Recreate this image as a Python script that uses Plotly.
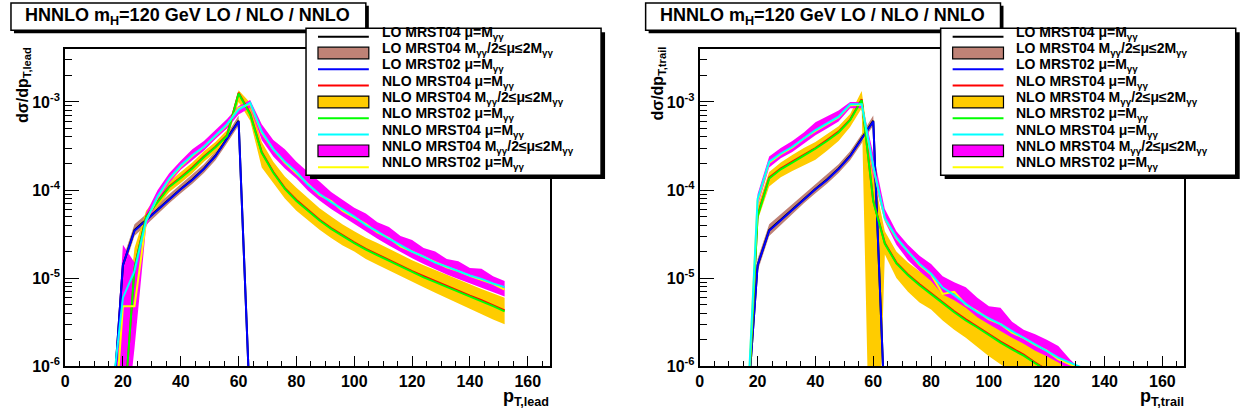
import plotly.graph_objects as go

W, H = 1246, 416

# ---------------- data ----------------
pt = [16, 20, 24, 28, 32, 36, 40, 44, 48, 52, 56, 60, 64, 68, 72, 76, 80, 84, 88, 92,
      96, 100, 104, 108, 112, 116, 120, 124, 128, 132, 136, 140, 144, 148, 152]
pt_lo = [16, 20, 24, 28, 32, 36, 40, 44, 48, 52, 56, 60, 64]

# LO (identical for leading / trailing photon)
lo04 = [2e-7, 1.4e-5, 3.5e-5, 4.6e-5, 6.1e-5, 8.0e-5, 1.03e-4, 1.32e-4, 1.75e-4, 2.45e-4, 3.8e-4, 6.1e-4, 3e-7]
lo04_dn = [1.6e-7, 1.2e-5, 3.0e-5, 4.0e-5, 5.4e-5, 7.1e-5, 9.2e-5, 1.18e-4, 1.56e-4, 2.18e-4, 3.4e-4, 5.4e-4, 2.5e-7]
lo04_up = [2.4e-7, 1.65e-5, 4.1e-5, 5.3e-5, 6.9e-5, 9.0e-5, 1.16e-4, 1.48e-4, 1.96e-4, 2.75e-4, 4.3e-4, 7.0e-4, 3.6e-7]
lo02 = [2e-7, 1.4e-5, 3.45e-5, 4.55e-5, 6.0e-5, 7.9e-5, 1.02e-4, 1.3e-4, 1.73e-4, 2.42e-4, 3.75e-4, 6.0e-4, 3e-7]

# leading photon
nlo04_lead = [1e-8, 2e-7, 1.3e-5, 5.0e-5, 7.5e-5, 1.1e-4, 1.4e-4, 1.8e-4, 2.4e-4, 3.1e-4, 4.2e-4, 1.27e-3,
              7.4e-4, 2.7e-4, 1.6e-4, 1.05e-4, 7.7e-5, 5.9e-5, 4.6e-5, 3.7e-5, 3.05e-5, 2.55e-5, 2.15e-5,
              1.85e-5, 1.6e-5, 1.38e-5, 1.2e-5, 1.05e-5, 9.2e-6, 8.1e-6, 7.2e-6, 6.3e-6, 5.6e-6, 4.9e-6, 4.3e-6]
nlo02_lead = [1e-8, 2e-7, 1.3e-5, 4.9e-5, 7.3e-5, 1.08e-4, 1.37e-4, 1.76e-4, 2.35e-4, 3.05e-4, 4.1e-4, 1.25e-3,
              7.2e-4, 2.65e-4, 1.57e-4, 1.03e-4, 7.5e-5, 5.8e-5, 4.5e-5, 3.62e-5, 2.98e-5, 2.5e-5, 2.1e-5,
              1.81e-5, 1.56e-5, 1.35e-5, 1.17e-5, 1.02e-5, 9.0e-6, 7.9e-6, 7.0e-6, 6.15e-6, 5.45e-6, 4.8e-6, 4.2e-6]
nlo04_lead_dn = [1e-8, 1e-7, 6e-6, 4.3e-5, 6.5e-5, 9.5e-5, 1.2e-4, 1.55e-4, 2.1e-4, 2.7e-4, 3.7e-4, 1.0e-3,
                 6.1e-4, 1.8e-4, 1.2e-4, 8.0e-5, 5.8e-5, 4.5e-5, 3.55e-5, 2.85e-5, 2.35e-5, 2.0e-5, 1.65e-5,
                 1.42e-5, 1.22e-5, 1.05e-5, 9.1e-6, 7.9e-6, 6.8e-6, 5.9e-6, 5.2e-6, 4.5e-6, 3.9e-6, 3.4e-6, 3.0e-6]
nlo04_lead_up = [1e-7, 1.5e-6, 2.2e-5, 5.8e-5, 8.5e-5, 1.25e-4, 1.6e-4, 2.05e-4, 2.75e-4, 3.5e-4, 4.8e-4, 1.36e-3,
                 9.8e-4, 3.5e-4, 2.1e-4, 1.42e-4, 1.06e-4, 8.0e-5, 6.2e-5, 5.0e-5, 4.05e-5, 3.4e-5, 2.88e-5,
                 2.5e-5, 2.15e-5, 1.85e-5, 1.6e-5, 1.4e-5, 1.23e-5, 1.08e-5, 9.6e-6, 8.5e-6, 7.5e-6, 6.7e-6, 6.0e-6]
nnlo04_lead = [4e-7, 6e-6, 1.2e-5, 4.5e-5, 8.5e-5, 1.35e-4, 1.9e-4, 2.5e-4, 3.1e-4, 4.2e-4, 5.6e-4, 8.2e-4,
               9.8e-4, 4.6e-4, 2.9e-4, 2.1e-4, 1.6e-4, 1.15e-4, 9.0e-5, 7.3e-5, 6.0e-5, 5.0e-5, 4.0e-5,
               3.4e-5, 2.8e-5, 2.35e-5, 2.0e-5, 1.75e-5, 1.5e-5, 1.35e-5, 1.2e-5, 1.07e-5, 9.8e-6, 8.7e-6, 7.9e-6]
nnlo02_lead = [7e-8, 4.8e-6, 4.8e-6, 4.4e-5, 8.3e-5, 1.32e-4, 1.85e-4, 2.45e-4, 3.1e-4, 4.1e-4, 5.5e-4, 8.5e-4,
               9.5e-4, 4.5e-4, 2.9e-4, 2.05e-4, 1.55e-4, 1.18e-4, 8.8e-5, 7.5e-5, 5.8e-5, 4.9e-5, 4.1e-5,
               3.3e-5, 2.85e-5, 2.3e-5, 2.0e-5, 1.72e-5, 1.52e-5, 1.33e-5, 1.2e-5, 1.06e-5, 9.6e-6, 8.6e-6, 7.4e-6]
nnlo04_lead_dn = [1e-8, 1e-7, 1.6e-6, 3.8e-5, 7.3e-5, 1.2e-4, 1.7e-4, 2.2e-4, 2.8e-4, 3.8e-4, 5.0e-4, 7.2e-4,
                  8.6e-4, 3.7e-4, 2.4e-4, 1.75e-4, 1.35e-4, 9.8e-5, 7.6e-5, 6.1e-5, 5.0e-5, 4.15e-5, 3.35e-5,
                  2.8e-5, 2.35e-5, 1.98e-5, 1.68e-5, 1.45e-5, 1.25e-5, 1.1e-5, 9.8e-6, 8.7e-6, 7.8e-6, 6.9e-6, 6.2e-6]
nnlo04_lead_up = [2e-7, 2.4e-5, 1.5e-5, 5.5e-5, 1.0e-4, 1.55e-4, 2.15e-4, 2.9e-4, 3.6e-4, 4.8e-4, 6.4e-4, 9.0e-4,
                  1.05e-3, 5.6e-4, 3.7e-4, 2.9e-4, 2.1e-4, 1.6e-4, 1.25e-4, 9.5e-5, 7.8e-5, 6.3e-5, 5.4e-5,
                  4.3e-5, 3.8e-5, 3.0e-5, 2.7e-5, 2.2e-5, 2.0e-5, 1.65e-5, 1.55e-5, 1.3e-5, 1.28e-5, 1.05e-5, 9.3e-6]

# trailing photon
nlo04_trail = [1.2e-7, 5.2e-5, 1.38e-4, 1.75e-4, 2.1e-4, 2.5e-4, 3.0e-4, 3.7e-4, 4.6e-4, 6.3e-4, 1.07e-3, 7.6e-5,
               2.5e-5, 1.5e-5, 1.1e-5, 8.5e-6, 6.7e-6, 5.3e-6, 4.2e-6, 3.4e-6, 2.8e-6, 2.3e-6, 1.9e-6,
               1.6e-6, 1.35e-6, 1.1e-6, 9.2e-7, 7.6e-7, 6.3e-7, 5.2e-7, 4.3e-7, 3.6e-7, 3.0e-7, 2.5e-7, 2.1e-7]
nlo02_trail = [1.2e-7, 5.0e-5, 1.35e-4, 1.72e-4, 2.05e-4, 2.45e-4, 2.95e-4, 3.6e-4, 4.5e-4, 6.2e-4, 1.05e-3, 7.4e-5,
               2.45e-5, 1.47e-5, 1.08e-5, 8.3e-6, 6.5e-6, 5.2e-6, 4.1e-6, 3.3e-6, 2.75e-6, 2.25e-6, 1.85e-6,
               1.55e-6, 1.32e-6, 1.08e-6, 9.0e-7, 7.4e-7, 6.1e-7, 5.1e-7, 4.2e-7, 3.5e-7, 2.9e-7, 2.4e-7, 2.0e-7]
nlo04_trail_dn = [1e-7, 4.5e-5, 1.1e-4, 1.4e-4, 1.65e-4, 1.9e-4, 2.2e-4, 2.8e-4, 3.6e-4, 5.2e-4, 8.5e-4, 1e-9,
                  1.86e-5, 1.0e-5, 7.0e-6, 5.3e-6, 4.4e-6, 3.3e-6, 2.6e-6, 2.1e-6, 1.65e-6, 1.3e-6, 1.05e-6,
                  8.5e-7, 7.0e-7, 5.8e-7, 4.8e-7, 4.0e-7, 3.3e-7, 2.7e-7, 2.2e-7, 1.8e-7, 1.5e-7, 1.2e-7, 1.0e-7]
nlo04_trail_up = [1.5e-7, 6.5e-5, 1.6e-4, 2.05e-4, 2.5e-4, 3.0e-4, 3.5e-4, 4.3e-4, 5.3e-4, 7.3e-4, 1.33e-3, 1.5e-4,
                  3.4e-5, 2.0e-5, 1.5e-5, 1.2e-5, 1.0e-5, 7.8e-6, 6.2e-6, 5.0e-6, 4.0e-6, 3.4e-6, 2.9e-6,
                  2.5e-6, 2.1e-6, 1.8e-6, 1.5e-6, 1.25e-6, 1.05e-6, 8.8e-7, 7.5e-7, 6.3e-7, 5.3e-7, 4.5e-7, 3.8e-7]
nnlo04_trail = [1.5e-7, 7.9e-5, 2.1e-4, 2.6e-4, 3.1e-4, 3.9e-4, 4.8e-4, 5.7e-4, 6.8e-4, 9.4e-4, 9.4e-4, 1.86e-4,
                4.8e-5, 2.9e-5, 2.0e-5, 1.45e-5, 1.12e-5, 7.8e-6, 6.4e-6, 5.1e-6, 4.1e-6, 3.5e-6, 3.0e-6,
                2.5e-6, 2.1e-6, 1.8e-6, 1.5e-6, 1.25e-6, 1.1e-6, 9.7e-7, 8.0e-7, 6.5e-7, 5.4e-7, 4.5e-7, 3.7e-7]
nnlo02_trail = [1.4e-7, 7.5e-5, 2.05e-4, 2.55e-4, 3.05e-4, 3.85e-4, 4.7e-4, 5.6e-4, 6.7e-4, 9.2e-4, 9.3e-4, 1.8e-4,
                4.7e-5, 2.85e-5, 2.0e-5, 1.42e-5, 1.1e-5, 6.6e-6, 7.0e-6, 5.0e-6, 4.2e-6, 3.4e-6, 3.0e-6,
                2.4e-6, 2.1e-6, 1.75e-6, 1.5e-6, 1.2e-6, 1.05e-6, 9.5e-7, 7.8e-7, 6.3e-7, 5.2e-7, 4.4e-7, 3.6e-7]
nnlo04_trail_dn = [1e-7, 6.5e-5, 1.8e-4, 2.3e-4, 2.7e-4, 3.4e-4, 4.2e-4, 5.0e-4, 6.0e-4, 8.5e-4, 8.5e-4, 1.4e-4,
                   4.4e-5, 2.4e-5, 1.6e-5, 1.2e-5, 9.3e-6, 6.5e-6, 5.6e-6, 4.6e-6, 3.6e-6, 3.0e-6, 2.5e-6,
                   2.1e-6, 1.8e-6, 1.5e-6, 1.3e-6, 1.1e-6, 9.0e-7, 7.5e-7, 6.0e-7, 5.0e-7, 4.2e-7, 3.5e-7, 2.9e-7]
nnlo04_trail_up = [2e-7, 9.0e-5, 2.4e-4, 3.0e-4, 3.6e-4, 4.5e-4, 5.9e-4, 6.8e-4, 8.0e-4, 1.0e-3, 1.0e-3, 2.6e-4,
                   6.1e-5, 3.4e-5, 2.4e-5, 1.8e-5, 1.45e-5, 1.05e-5, 9.0e-6, 7.9e-6, 6.0e-6, 4.8e-6, 4.6e-6,
                   3.2e-6, 2.6e-6, 2.3e-6, 2.0e-6, 1.7e-6, 1.2e-6, 9.0e-7, 7.0e-7, 5.5e-7, 4.5e-7, 3.7e-7, 3.0e-7]

x_ticks = [0, 20, 40, 60, 80, 100, 120, 140, 160]
y_ticks = [1e-6, 1e-5, 1e-4, 1e-3]
y_ticktext = ["10<sup>-6</sup>", "10<sup>-5</sup>", "10<sup>-4</sup>", "10<sup>-3</sup>"]

title_text = "HNNLO m<sub>H</sub>=120 GeV LO / NLO / NNLO"
legend_labels = [
    "LO MRST04 μ=M<sub>γγ</sub>",
    "LO MRST04 M<sub>γγ</sub>/2≤μ≤2M<sub>γγ</sub>",
    "LO MRST02 μ=M<sub>γγ</sub>",
    "NLO MRST04 μ=M<sub>γγ</sub>",
    "NLO MRST04 M<sub>γγ</sub>/2≤μ≤2M<sub>γγ</sub>",
    "NLO MRST02 μ=M<sub>γγ</sub>",
    "NNLO MRST04 μ=M<sub>γγ</sub>",
    "NNLO MRST04 M<sub>γγ</sub>/2≤μ≤2M<sub>γγ</sub>",
    "NNLO MRST02 μ=M<sub>γγ</sub>",
]

# ---------------- style ----------------
C_LO_BAND = "#BF8276"
C_NLO_BAND = "#FFCC00"
C_NNLO_BAND = "#FF00FF"
legend_kinds = [("line", "black"), ("fill", C_LO_BAND), ("line", "#0000FF"),
                ("line", "#FF0000"), ("fill", C_NLO_BAND), ("line", "#00FF00"),
                ("line", "#00FFFF"), ("fill", C_NNLO_BAND), ("line", "#FFFF00")]

FONT = "Liberation Sans, Arial, Helvetica, sans-serif"
LW = 2

fig = go.Figure()


def band(x, lo, hi, color, xa, ya):
    fig.add_trace(go.Scatter(x=x, y=lo, mode="lines", line=dict(width=0, color=color),
                             xaxis=xa, yaxis=ya, showlegend=False, hoverinfo="skip"))
    fig.add_trace(go.Scatter(x=x, y=hi, mode="lines", line=dict(width=0, color=color),
                             fill="tonexty", fillcolor=color,
                             xaxis=xa, yaxis=ya, showlegend=False, hoverinfo="skip"))


def line(x, y, color, xa, ya):
    fig.add_trace(go.Scatter(x=x, y=y, mode="lines", line=dict(width=LW, color=color),
                             xaxis=xa, yaxis=ya, showlegend=False))


panels = [
    ("x", "y", nlo04_lead, nlo02_lead, nlo04_lead_dn, nlo04_lead_up,
     nnlo04_lead, nnlo02_lead, nnlo04_lead_dn, nnlo04_lead_up),
    ("x2", "y2", nlo04_trail, nlo02_trail, nlo04_trail_dn, nlo04_trail_up,
     nnlo04_trail, nnlo02_trail, nnlo04_trail_dn, nnlo04_trail_up),
]
for xa, ya, n04, n02, ndn, nup, nn04, nn02, nndn, nnup in panels:
    band(pt_lo, lo04_dn, lo04_up, C_LO_BAND, xa, ya)
    band(pt, ndn, nup, C_NLO_BAND, xa, ya)
    band(pt, nndn, nnup, C_NNLO_BAND, xa, ya)
    line(pt_lo, lo04, "black", xa, ya)
    line(pt_lo, lo02, "#0000FF", xa, ya)
    line(pt, n04, "#FF0000", xa, ya)
    line(pt, n02, "#00FF00", xa, ya)
    line(pt, nn02, "#FFFF00", xa, ya)
    line(pt, nn04, "#00FFFF", xa, ya)

# ---------------- axes ----------------
X0 = [61.3, 698.0]
PW = 486.2
YT, YB = 50.0, 374.3

x_minor = [v for v in range(5, 170, 5) if v % 20 != 0]
y_minor = [m * 10.0 ** e for e in range(-6, -2) for m in range(2, 10)]
y_minor = [v for v in y_minor if v < 4e-3]

tickfont = dict(family=FONT, size=16, color="black", weight="bold")
for i, (xn, yn) in enumerate([("xaxis", "yaxis"), ("xaxis2", "yaxis2")]):
    fig.layout[xn] = dict(
        domain=[X0[i] / W, (X0[i] + PW) / W], range=[0, 167.6], anchor="y" if i == 0 else "y2",
        showline=True, linecolor="black", linewidth=2, mirror=True,
        showgrid=False, zeroline=False,
        ticks="inside", ticklen=10, tickwidth=1, tickcolor="black",
        tickmode="array", tickvals=x_ticks, ticktext=[str(v) for v in x_ticks],
        tickfont=tickfont,
        minor=dict(tickmode="array", tickvals=x_minor, ticks="inside", ticklen=5,
                   tickwidth=1, tickcolor="black", showgrid=False),
    )
    fig.layout[yn] = dict(
        domain=[1 - YB / H, 1 - YT / H], type="log", range=[-6, -2.398],
        anchor="x" if i == 0 else "x2",
        showline=True, linecolor="black", linewidth=2, mirror=True,
        showgrid=False, zeroline=False,
        ticks="inside", ticklen=14, tickwidth=1, tickcolor="black",
        tickmode="array", tickvals=y_ticks, ticktext=y_ticktext,
        tickfont=tickfont,
        minor=dict(tickmode="array", tickvals=y_minor, ticks="inside", ticklen=7,
                   tickwidth=1, tickcolor="black", showgrid=False),
    )

# ---------------- decorations ----------------
shapes, annos = [], []


def px(xp):
    return xp / W


def py(yp):
    return 1 - yp / H


def rect(x0, y0, x1, y1, fill, lw=0, lc="black"):
    shapes.append(dict(type="rect", xref="paper", yref="paper", layer="above",
                       x0=px(x0), x1=px(x1), y0=py(y1), y1=py(y0),
                       fillcolor=fill, line=dict(width=lw, color=lc)))


def text(x, y, s, size, xanchor="left", yanchor="middle", angle=0):
    annos.append(dict(xref="paper", yref="paper", x=px(x), y=py(y), text="<b>" + s + "</b>",
                      showarrow=False, xanchor=xanchor, yanchor=yanchor, textangle=angle,
                      font=dict(family=FONT, size=size, color="black"), borderpad=0))


axis_names = ["lead", "trail"]
for i in range(2):
    dx = X0[i] - X0[0]
    # title box
    rect(7 + dx + 3, 3 + 3, 363 + dx + 3, 31 + 3, "black")
    rect(7 + dx, 3, 363 + dx, 31, "white", 1.5)
    text(184 + dx, 17, title_text, 18, xanchor="center")
    # legend box
    rect(303 + dx + 4, 29 + 4, 599 + dx + 4, 179 + 4, "black")
    rect(303 + dx, 29, 599 + dx, 179, "white", 1.5)
    for k, (lab, (kind, col)) in enumerate(zip(legend_labels, legend_kinds)):
        yc = 33.5 + 16.67 * k
        if kind == "line":
            shapes.append(dict(type="line", xref="paper", yref="paper", layer="above",
                               x0=px(315 + dx), x1=px(366 + dx), y0=py(yc + 4), y1=py(yc + 4),
                               line=dict(width=LW, color=col)))
        else:
            rect(315 + dx, yc - 2, 366 + dx, yc + 10, col, 1.2)
        text(378 + dx, yc, lab, 14)
    # axis titles
    text(20 + dx, 47, "dσ/dp<sub>T," + axis_names[i] + "</sub>", 16,
         xanchor="center", yanchor="top", angle=-90)
    text(548 + dx, 406, "p<sub>T," + axis_names[i] + "</sub>", 18, xanchor="right")

fig.update_layout(
    width=W, height=H, margin=dict(l=0, r=0, t=0, b=0),
    paper_bgcolor="white", plot_bgcolor="white",
    showlegend=False, shapes=shapes, annotations=annos,
)

fig.write_html("out.html", config={"displayModeBar": False},
               post_script="document.body.style.margin='0';document.body.style.overflow='hidden';")
